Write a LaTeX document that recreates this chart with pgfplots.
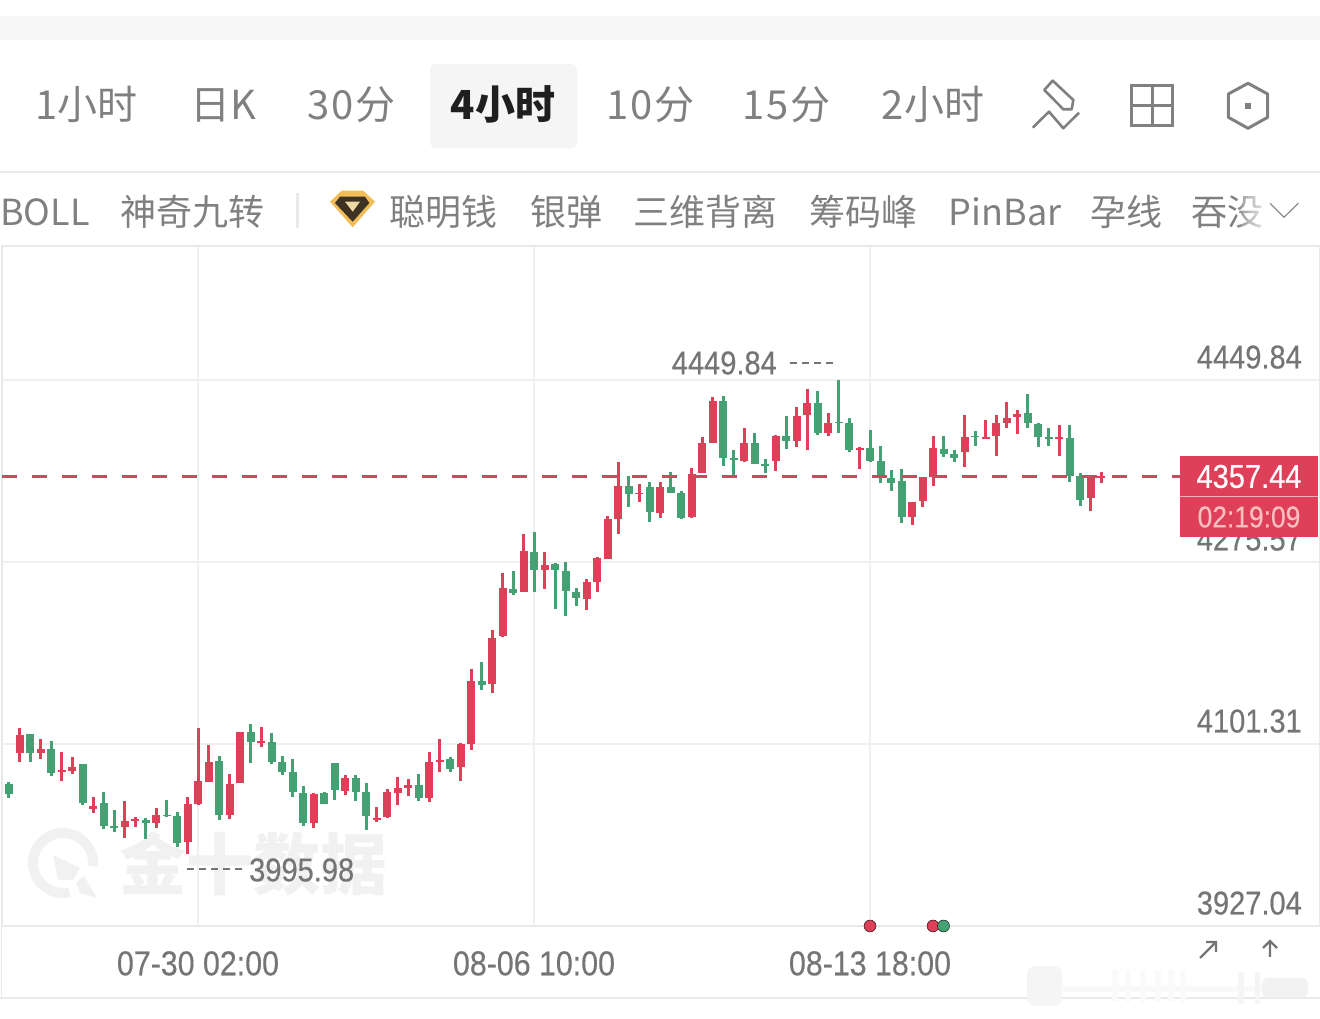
\documentclass[border=0pt]{standalone}
\usepackage{fontspec}
\usepackage{pgfplots}
\usepackage{pgfplotstable}
\pgfplotsset{compat=1.18}
\newfontfamily\cjk{Noto Sans CJK SC}
\newfontfamily\cjkw[LetterSpace=5]{Noto Sans CJK SC}
\newfontfamily\din[FakeStretch=0.88,FakeBold=0.35]{Liberation Sans}
\definecolor{upred}{HTML}{DD4058}
\definecolor{downgreen}{HTML}{45A074}
\definecolor{uigray}{HTML}{808080}
\definecolor{numgray}{HTML}{757575}
\definecolor{linegray}{HTML}{E9E9E9}
\definecolor{gridgray}{HTML}{F0F0F0}
\definecolor{wm}{HTML}{F1F1F1}
\definecolor{dashred}{HTML}{CC4A5E}
\definecolor{gold}{HTML}{F2BC58}
\definecolor{golddark}{HTML}{3E3222}
\definecolor{goldpale}{HTML}{EBD9A6}
\pgfplotstableread{
i O H L C
0 4063.0 4064.9 4049.6 4053.4
2 4110.9 4110.9 4084.1 4092.7
4 4096.5 4104.2 4070.7 4073.5
7 4082.2 4082.2 4042.9 4044.8
9 4044.8 4055.3 4019.9 4022.8
10 4022.8 4038.1 4017.0 4020.9
13 4028.5 4030.4 4010.3 4025.7
15 4033.3 4047.7 4031.4 4032.4
16 4032.4 4036.2 4002.7 4006.5
20 4085.0 4089.8 4028.5 4033.3
23 4112.8 4120.4 4083.1 4103.2
25 4103.2 4111.8 4082.2 4084.1
26 4084.1 4089.8 4071.6 4074.5
27 4074.5 4086.9 4050.6 4055.3
28 4054.4 4061.1 4022.8 4025.7
30 4054.4 4055.3 4043.8 4043.8
31 4083.1 4083.1 4047.7 4057.3
33 4068.7 4071.6 4046.7 4055.3
34 4055.3 4063.9 4019.0 4032.4
39 4062.0 4072.6 4046.7 4049.6
42 4086.9 4088.9 4074.5 4077.4
45 4161.6 4179.8 4153.0 4157.8
48 4249.7 4267.0 4244.0 4245.9
50 4285.1 4304.3 4246.8 4267.9
52 4273.7 4274.6 4230.6 4267.9
53 4267.0 4275.6 4223.9 4247.8
54 4246.8 4250.7 4233.4 4241.1
59 4348.3 4357.9 4328.2 4340.7
61 4347.4 4352.2 4313.9 4323.4
63 4347.4 4361.7 4341.6 4341.6
64 4341.6 4343.5 4316.7 4317.7
68 4429.7 4434.5 4367.5 4375.2
69 4375.2 4382.8 4358.9 4373.2
71 4389.5 4399.1 4369.4 4369.4
72 4369.4 4374.2 4360.8 4367.5
74 4396.2 4415.4 4383.8 4391.4
77 4427.8 4439.3 4397.2 4399.1
79 4409.6 4449.84 4399.1 4408.7
80 4408.7 4413.4 4380.9 4382.8
82 4384.7 4402.0 4371.3 4372.3
83 4372.3 4386.7 4351.2 4356.9
84 4356.0 4363.6 4343.5 4351.2
85 4353.1 4364.6 4312.9 4318.6
89 4383.8 4396.2 4376.1 4379.0
90 4379.0 4382.8 4371.3 4375.2
92 4396.2 4401.0 4386.7 4395.3
97 4418.3 4436.4 4403.9 4408.7
98 4407.7 4408.7 4385.7 4395.3
99 4395.3 4403.9 4386.7 4393.4
101 4394.3 4406.8 4352.2 4357.9
102 4357.9 4360.8 4329.2 4334.9
}\greendata
\pgfplotstableread{
i O H L C
1 4092.7 4116.6 4084.1 4109.9
3 4092.7 4106.1 4086.9 4096.5
5 4074.5 4093.6 4065.9 4076.4
6 4075.4 4088.9 4072.6 4079.3
8 4039.1 4050.6 4035.2 4041.9
11 4021.8 4046.7 4011.3 4027.6
12 4027.6 4031.4 4021.8 4029.5
14 4025.7 4040.0 4020.9 4033.3
17 4007.5 4050.6 3995.98 4043.8
18 4043.8 4116.6 4042.9 4065.9
19 4064.9 4100.4 4064.9 4084.1
21 4033.3 4072.6 4029.5 4063.0
22 4063.9 4112.8 4063.9 4112.8
24 4102.3 4117.6 4098.4 4104.2
29 4025.7 4054.4 4020.9 4053.4
32 4056.3 4071.6 4052.5 4068.7
35 4028.5 4041.0 4026.6 4030.4
36 4031.4 4058.2 4030.4 4055.3
37 4054.4 4069.7 4042.9 4059.2
38 4059.2 4067.8 4051.5 4062.0
40 4049.6 4093.6 4045.8 4084.1
41 4084.1 4106.1 4074.5 4086.0
43 4079.3 4102.3 4065.9 4101.3
44 4101.3 4173.1 4095.6 4161.6
46 4158.8 4210.4 4150.1 4202.8
47 4204.7 4265.0 4203.7 4250.7
49 4246.8 4302.4 4246.8 4286.1
51 4267.9 4285.1 4249.7 4272.7
55 4240.1 4259.3 4229.6 4256.4
56 4256.4 4280.4 4246.8 4279.4
57 4278.4 4319.6 4278.4 4316.7
58 4316.7 4371.3 4302.4 4348.3
60 4340.7 4350.3 4333.0 4341.6
62 4322.5 4352.2 4317.7 4347.4
65 4318.6 4365.6 4317.7 4359.8
66 4360.8 4395.3 4360.8 4389.5
67 4389.5 4433.6 4389.5 4429.7
70 4372.3 4403.9 4371.3 4389.5
73 4372.3 4397.2 4362.7 4396.2
75 4391.4 4424.0 4385.7 4415.4
76 4416.3 4441.2 4382.8 4427.8
78 4399.1 4418.3 4396.2 4408.7
81 4382.8 4385.7 4364.6 4384.7
86 4318.6 4333.0 4311.0 4333.0
87 4334.0 4356.9 4328.2 4356.9
88 4356.9 4396.2 4348.3 4384.7
91 4380.9 4416.3 4366.5 4395.3
93 4393.4 4411.5 4393.4 4395.3
94 4396.2 4416.3 4377.1 4408.7
95 4408.7 4428.8 4403.9 4413.4
96 4414.4 4421.1 4398.1 4417.3
100 4393.4 4406.8 4377.1 4395.3
103 4336.9 4358.9 4324.4 4356.9
104 4356.0 4361.7 4351.2 4357.44
}\reddata
\tikzset{px/.style={x=1pt,y=-1pt,shift={(0,-1019)}},
  ui/.style={inner sep=0,anchor=base,text=uigray,font=\cjk\fontsize{40}{48}\selectfont},
  uiw/.style={inner sep=0,anchor=base,text=uigray,font=\cjkw\fontsize{40}{48}\selectfont},
  ui2/.style={inner sep=0,anchor=base,text=uigray,font=\cjk\fontsize{36}{44}\selectfont},
  num/.style={inner sep=0,text=numgray,font=\din\fontsize{33}{36}\selectfont}}
\pgfplotsset{
  wick/.style={draw=none,forget plot,error bars/.cd,y dir=minus,y explicit,error mark=none,
    error bar style={solid,draw=#1,line width=3pt}},
  body/.style={draw=none,forget plot,error bars/.cd,y dir=minus,y explicit,error mark=none,
    error bar style={solid,draw=#1,line width=8pt}}}
\begin{document}
\begin{tikzpicture}
\path[use as bounding box] (0,0) rectangle (1320pt,1019pt);
\begin{scope}[px]
  % top chrome
  \fill[fill=black!3.5] (0,16) rectangle (1320,40);
  \fill[fill=black!4,rounded corners=6pt] (430,64) rectangle (577,148);
  \node[ui] at (86.5,120) {1小时};
  \node[ui] at (223,120) {日K};
  \node[uiw] at (351.5,120) {30分};
  \node[ui,text=black!88,font=\cjk\bfseries\fontsize{40}{48}\selectfont] at (503,120) {4小时};
  \node[uiw] at (650.5,120) {10分};
  \node[uiw] at (786.5,120) {15分};
  \node[ui] at (933,120) {2小时};
  \draw[uigray,line width=2.6pt,line join=round] (1052.7,80.7)--(1073.3,100)--(1071.7,109.3)--(1063.3,109.3)--(1044.3,90)--cycle;
  \draw[uigray,line width=2.6pt,line join=round] (1032.7,127.7)--(1049,111.7)--(1063.3,128.3)--(1079,112.7);
  \draw[uigray,line width=3pt] (1131.7,85.7) rectangle (1172.3,126);
  \draw[uigray,line width=3pt] (1152,85.7)--(1152,126) (1131.7,105.7)--(1172.3,105.7);
  \draw[uigray,line width=3pt,line join=round] (1248,83.3)--(1267.7,94)--(1267.7,117.3)--(1248,128.3)--(1228.3,117.3)--(1228.3,94)--cycle;
  \fill[uigray] (1245.2,103) rectangle (1250.8,108.6);
  \draw[linegray,line width=1.6pt] (0,172)--(1320,172);
  % second row
  \node[ui2] at (45,226) {BOLL};
  \node[ui2] at (192,226) {神奇九转};
  \fill[linegray] (295.5,193) rectangle (298.5,228);
  \fill[gold] (330,201.7)--(341.7,190.7)--(363.3,190.7)--(375,201.7)--(352.7,227.3)--cycle;
  \fill[golddark] (335,203)--(340,196.7)--(365,196.7)--(369.3,203)--(352.7,221.7)--cycle;
  \fill[goldpale] (345,201.7)--(360,201.7)--(352.7,211.7)--cycle;
  \node[ui2] at (443.5,226) {聪明钱};
  \node[ui2] at (566,226) {银弹};
  \node[ui2] at (705,226) {三维背离};
  \node[ui2] at (863.5,226) {筹码峰};
  \node[ui2] at (1005,226) {PinBar};
  \node[ui2] at (1126,226) {孕线};
  \node[ui2] at (1227,226) {吞没};
  \foreach \k in {0,...,9} \fill[white,opacity=0.12] (1238+2.6*\k,190) rectangle (1266,235);
  \draw[black!45,line width=1.2pt] (1270,203.3)--(1284,217.3)--(1298.3,203.3);
  % watermark behind the plot
  \node[inner sep=0,anchor=base,text=wm,font=\cjk\bfseries\fontsize{67}{70}\selectfont] at (253.5,890) {金十数据};
  \draw[wm,line width=10pt] (63,863) circle[radius=30pt];
  \fill[white] (63,863)--(106,868)--(106,904)--(72,904)--cycle;
  \fill[wm] (53,855)--(80,868)--(73,880)--(58,880)--cycle;
  \fill[wm] (97,898)--(80,893)--(76,883)--(84,876)--cycle;
  % bottom lines and smear
  \draw[linegray,line width=1.4pt] (0,998)--(1320,998);
  \draw[linegray,line width=1.6pt] (1.5,246)--(1.5,998);
  \fill[black!4,rounded corners=8pt] (1027,966) rectangle (1062,1006);
  \fill[black!2.5] (1062,986) rectangle (1300,992);
  \foreach \xx in {1112,1125,1140,1155,1168,1180} \fill[black!2] (\xx,970) rectangle (\xx+6,1002);
  \fill[black!4] (1238,972) rectangle (1244,1004);
  \fill[black!4] (1255,972) rectangle (1260,1004);
  \fill[black!5,rounded corners=6pt] (1262,978) rectangle (1308,998);
\end{scope}
\begin{axis}[
  at={(2pt,93pt)},anchor=south west,scale only axis,width=1318pt,height=680pt,
  xmin=-0.6667,xmax=124.857,ymin=3927.04,ymax=4578.14,
  clip=false,
  axis line style={draw=linegray,line width=1.4pt},
  xtick={18,50,82},xticklabels={07-30 02:00,08-06 10:00,08-13 18:00},
  ytick={3927.04,4101.31,4275.57,4449.84},
  yticklabels={3927.04,4101.31,4275.57,4449.84},
  yticklabel pos=right,
  major tick length=0pt,
  grid=major,grid style={draw=gridgray,line width=1.3pt},
  xticklabel style={text=numgray,font=\din\fontsize{34.5}{36}\selectfont,anchor=north,yshift=-25pt,inner sep=0pt},
  yticklabel style={text=numgray,font=\din\fontsize{33}{36}\selectfont,anchor=south east,xshift=-18pt,yshift=11pt,inner sep=0pt},
]
\addplot[wick=downgreen] table[x=i,y=H,y error minus expr=\thisrow{H}-\thisrow{L}] {\greendata};
\addplot[body=downgreen] table[x=i,y=O,y error minus expr=\thisrow{O}-\thisrow{C}] {\greendata};
\addplot[wick=upred] table[x=i,y=H,y error minus expr=\thisrow{H}-\thisrow{L}] {\reddata};
\addplot[body=upred] table[x=i,y=C,y error minus expr=\thisrow{C}-\thisrow{O}] {\reddata};
\addplot[dashred,line width=2.6pt,dash pattern=on 15pt off 15pt,forget plot] coordinates {(-0.6667,4357.44) (111.52,4357.44)};
\addplot[only marks,mark=*,mark size=6pt,mark options={fill=upred,draw=none},forget plot] coordinates {(82,3927.04) (88,3927.04)};
\addplot[only marks,mark=*,mark size=6pt,mark options={fill=downgreen,draw=none},forget plot] coordinates {(89,3927.04)};
\end{axis}
\begin{scope}[px]
  \node[num,anchor=east] at (777,363) {4449.84};
  \draw[numgray,line width=2pt,dash pattern=on 7pt off 5pt] (790,363)--(834,363);
  \draw[numgray,line width=2pt,dash pattern=on 7pt off 5pt] (187,869)--(242,869);
  \node[num,anchor=west] at (249,870) {3995.98};
  % price tag
  \fill[upred] (1180,456) rectangle (1318,537);
  \draw[white!60!upred,line width=1pt] (1180,497)--(1318,497);
  \node[num,anchor=center,text=white] at (1249,476.5) {4357.44};
  \node[num,anchor=center,text=red!25!white,font=\din\fontsize{30}{34}\selectfont] at (1249,517) {02:19:09};
  % arrows
  \draw[numgray,line width=2.4pt] (1200,958)--(1216,942) (1206,942)--(1216,942)--(1216,952);
  \draw[numgray,line width=2.4pt] (1270,957)--(1270,941) (1263,948)--(1270,941)--(1277,948);
\end{scope}
\end{tikzpicture}
\end{document}
